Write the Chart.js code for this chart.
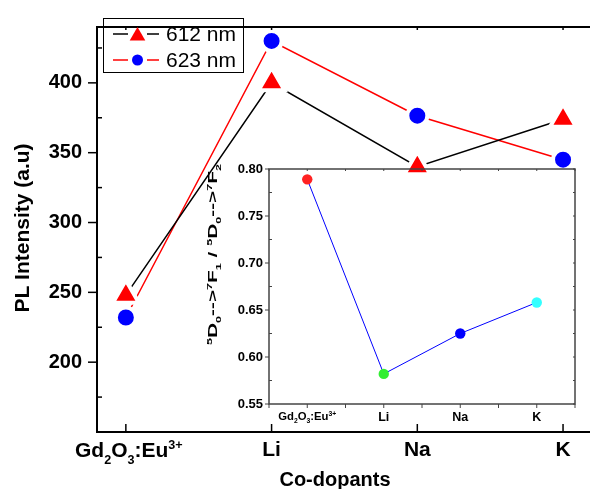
<!DOCTYPE html>
<html>
<head>
<meta charset="utf-8">
<script src="https://cdn.jsdelivr.net/npm/chart.js@4.4.0/dist/chart.umd.min.js"></script>
<style>
  html, body { margin: 0; padding: 0; background: #fff; overflow: hidden; }
  #wrap { position: relative; width: 609px; height: 489px; }
  #mainChart { position: absolute; left: 0; top: 0; }
  #insetChart { position: absolute; left: 190px; top: 150px; }
</style>
</head>
<body>
<div id="wrap">
  <canvas id="mainChart" width="609" height="489"></canvas>
  <canvas id="insetChart" width="400" height="290"></canvas>
</div>
<script>
const FONT = '"Liberation Sans", Arial, sans-serif';

// Data
const categories = ['Gd2O3:Eu3+', 'Li', 'Na', 'K'];
const pl612 = [248, 400, 340, 374];
const pl623 = [232, 430, 376.5, 345];
const ratio = [0.789, 0.582, 0.625, 0.658];
const ratioColors = ['#ff2222', '#33ee33', '#0000ff', '#33ffff'];

// Tick labels
const plMajor = [200, 250, 300, 350, 400];
const plMinor = [175, 225, 275, 325, 375, 425];
const ratioMajor = [0.55, 0.60, 0.65, 0.70, 0.75, 0.80];
const ratioMinor = [0.575, 0.625, 0.675, 0.725, 0.775];

// rich label parts: 0 normal, -1 subscript, 1 superscript
const gdLabel = [['Gd', 0], ['2', -1], ['O', 0], ['3', -1], [':Eu', 0], ['3+', 1]];
const ratioTitle = [['5', 1], ['D', 0], ['0', -1], ['-->', 0], ['7', 1], ['F', 0], ['1', -1], [' / ', 0],
                    ['5', 1], ['D', 0], ['0', -1], ['-->', 0], ['7', 1], ['F', 0], ['2', -1]];

// draws sub/superscript text centred on cx; stretches it to fitWidth if given
function drawRich(ctx, parts, cx, baseY, size, weight, fitWidth) {
  const small = size * 0.6;
  let total = 0;
  const widths = parts.map(([t, m]) => {
    ctx.font = `${weight} ${m ? small : size}px ${FONT}`;
    const w = ctx.measureText(t).width;
    total += w;
    return w;
  });
  ctx.save();
  ctx.translate(cx, baseY);
  if (fitWidth) ctx.scale(fitWidth / total, 1);
  let xx = -total / 2;
  ctx.textAlign = 'left';
  ctx.textBaseline = 'alphabetic';
  parts.forEach(([t, m], i) => {
    ctx.font = `${weight} ${m ? small : size}px ${FONT}`;
    const dy = m === -1 ? size * 0.33 : m === 1 ? -size * 0.36 : 0;
    ctx.fillText(t, xx, dy);
    xx += widths[i];
  });
  ctx.restore();
}

function line(ctx, x1, y1, x2, y2) {
  ctx.beginPath();
  ctx.moveTo(x1, y1);
  ctx.lineTo(x2, y2);
  ctx.stroke();
}

// axes, ticks, titles and legend of the main plot
const mainDecor = {
  id: 'mainDecor',
  afterDraw(chart) {
    const { ctx, chartArea: a, scales: { x, y } } = chart;
    ctx.save();
    ctx.strokeStyle = '#000';
    ctx.fillStyle = '#000';
    ctx.lineWidth = 2;
    line(ctx, a.left, a.top, a.right, a.top);
    line(ctx, a.left, a.top - 1, a.left, a.bottom + 1);
    line(ctx, a.left - 1, a.bottom, a.right, a.bottom);
    ctx.lineWidth = 1.5;
    plMajor.forEach(v => { const p = y.getPixelForValue(v); line(ctx, a.left - 9, p, a.left, p); });
    plMinor.forEach(v => { const p = y.getPixelForValue(v); line(ctx, a.left, p, a.left + 5, p); });
    categories.forEach((c, i) => {
      const p = x.getPixelForValue(i);
      line(ctx, p, a.bottom, p, a.bottom - 8);
      line(ctx, p, a.top, p, a.top + 3);
    });

    drawRich(ctx, gdLabel, x.getPixelForValue(0) + 3, 457, 21, 'bold');

    // axis titles
    ctx.font = `bold 20px ${FONT}`;
    ctx.textAlign = 'center';
    ctx.textBaseline = 'alphabetic';
    ctx.fillText('Co-dopants', 335, 486);
    ctx.save();
    ctx.translate(28.5, 228);
    ctx.rotate(-Math.PI / 2);
    ctx.font = `bold 21px ${FONT}`;
    ctx.fillText('PL Intensity (a.u)', 0, 0);
    ctx.restore();

    // legend
    ctx.lineWidth = 1;
    ctx.strokeRect(103.5, 18.5, 140, 54);
    const rows = [
      { y: 34, lineColor: '#000', style: 'triangle', r: 9, dy: 2, fill: '#ff0000', text: '612 nm' },
      { y: 60, lineColor: '#ff0000', style: 'circle', r: 5.5, dy: 0, fill: '#0000ff', text: '623 nm' }
    ];
    rows.forEach(row => {
      ctx.strokeStyle = row.lineColor;
      ctx.lineWidth = 1.5;
      line(ctx, 113, row.y, 128, row.y);
      line(ctx, 147, row.y, 159, row.y);
      ctx.fillStyle = row.fill;
      ctx.strokeStyle = row.fill;
      ctx.lineWidth = 0;
      Chart.helpers.drawPoint(ctx, { pointStyle: row.style, radius: row.r, borderWidth: 0 }, 137.5, row.y + row.dy);
      ctx.fillStyle = '#000';
      ctx.font = `21px ${FONT}`;
      ctx.textAlign = 'left';
      ctx.textBaseline = 'middle';
      ctx.fillText(row.text, 166, row.y + 1);
    });
    ctx.restore();
  }
};

// frame, ticks and titles of the inset
const insetDecor = {
  id: 'insetDecor',
  afterDraw(chart) {
    const { ctx, chartArea: a, scales: { x, y } } = chart;
    ctx.save();
    ctx.strokeStyle = '#444';
    ctx.fillStyle = '#000';
    ctx.lineWidth = 1.5;
    ctx.strokeRect(a.left, a.top, a.right - a.left, a.bottom - a.top);
    ctx.lineWidth = 1;
    for (let k = 0; k <= 8; k++) {
      const p = x.getPixelForValue(-0.5 + k * 0.5);
      line(ctx, p, a.bottom, p, a.bottom + 4);
      line(ctx, p, a.top, p, a.top + 2);
    }
    ratioMajor.forEach(v => {
      const p = y.getPixelForValue(v);
      line(ctx, a.left - 4, p, a.left, p);
      line(ctx, a.right, p, a.right - 2, p);
    });
    ratioMinor.forEach(v => {
      const p = y.getPixelForValue(v);
      line(ctx, a.left, p, a.left + 3, p);
      line(ctx, a.right, p, a.right - 2, p);
    });

    drawRich(ctx, gdLabel, x.getPixelForValue(0), 270, 10.5, 'bold', 58);

    ctx.save();
    ctx.translate(26.5, 104.5);
    ctx.rotate(-Math.PI / 2);
    drawRich(ctx, ratioTitle, 0, 0, 13, 'bold', 181);
    ctx.restore();
    ctx.restore();
  }
};

const mainChart = new Chart(document.getElementById('mainChart'), {
  type: 'line',
  data: {
    datasets: [
      {
        label: '612 nm',
        data: pl612.map((v, i) => ({ x: i, y: v })),
        borderColor: '#000',
        borderWidth: 1.5,
        pointStyle: 'triangle',
        pointRadius: 15,
        pointBackgroundColor: '#ff0000',
        pointBorderColor: '#fff',
        pointBorderWidth: 4,
        clip: false
      },
      {
        label: '623 nm',
        data: pl623.map((v, i) => ({ x: i, y: v })),
        borderColor: '#ff0000',
        borderWidth: 1.5,
        pointStyle: 'circle',
        pointRadius: 10,
        pointBackgroundColor: '#0000ff',
        pointBorderColor: '#fff',
        pointBorderWidth: 4,
        clip: false
      }
    ]
  },
  options: {
    responsive: false,
    animation: false,
    events: [],
    layout: { padding: { top: 13, right: 0, left: 0, bottom: 0 } },
    plugins: { legend: { display: false }, tooltip: { enabled: false } },
    scales: {
      x: {
        type: 'linear',
        min: -0.198,
        max: 3.185,
        afterBuildTicks: s => { s.ticks = categories.map((c, i) => ({ value: i })); },
        afterFit: s => { s.height = 57; },
        grid: { display: false, drawTicks: false },
        border: { display: false },
        ticks: {
          padding: 6,
          color: '#000',
          maxRotation: 0,
          autoSkip: false,
          font: { family: FONT, size: 21, weight: 'bold' },
          callback: v => (v === 0 ? '' : categories[v])
        }
      },
      y: {
        min: 150,
        max: 440,
        afterBuildTicks: s => { s.ticks = plMajor.map(v => ({ value: v })); },
        afterFit: s => { s.width = 97; },
        grid: { display: false, drawTicks: false },
        border: { display: false },
        ticks: {
          padding: 15,
          color: '#000',
          font: { family: FONT, size: 20, weight: 'bold' },
          callback: v => String(v)
        }
      }
    }
  },
  plugins: [mainDecor]
});

const insetChart = new Chart(document.getElementById('insetChart'), {
  type: 'line',
  data: {
    datasets: [{
      data: ratio.map((v, i) => ({ x: i, y: v })),
      borderColor: '#0000ff',
      borderWidth: 1,
      pointRadius: 5.2,
      pointBackgroundColor: ratioColors,
      pointBorderWidth: 0,
      clip: false
    }]
  },
  options: {
    responsive: false,
    animation: false,
    events: [],
    layout: { padding: { top: 19, right: 15, left: 0, bottom: 0 } },
    plugins: { legend: { display: false }, tooltip: { enabled: false } },
    scales: {
      x: {
        type: 'linear',
        min: -0.5,
        max: 3.5,
        afterBuildTicks: s => { s.ticks = categories.map((c, i) => ({ value: i })); },
        afterFit: s => { s.height = 36; },
        grid: { display: false, drawTicks: false },
        border: { display: false },
        ticks: {
          padding: 6,
          color: '#000',
          maxRotation: 0,
          autoSkip: false,
          font: { family: FONT, size: 12.5, weight: 'bold' },
          callback: v => (v === 0 ? '' : categories[v])
        }
      },
      y: {
        min: 0.55,
        max: 0.80,
        afterBuildTicks: s => { s.ticks = ratioMajor.map(v => ({ value: v })); },
        afterFit: s => { s.width = 79; },
        grid: { display: false, drawTicks: false },
        border: { display: false },
        ticks: {
          padding: 6,
          color: '#000',
          font: { family: FONT, size: 13, weight: 'bold' },
          callback: v => v.toFixed(2)
        }
      }
    }
  },
  plugins: [insetDecor]
});
</script>
</body>
</html>
